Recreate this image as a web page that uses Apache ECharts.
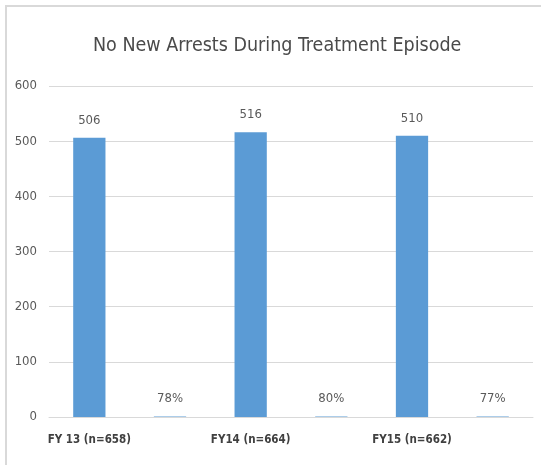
<!DOCTYPE html>
<html>
<head>
<meta charset="utf-8">
<script src="https://cdn.jsdelivr.net/npm/echarts@6/dist/echarts.min.js"></script>
<style>
  html, body { margin: 0; padding: 0; background: #fff; }
  #wrap { position: relative; width: 541px; height: 465px; }
  #frame { position: absolute; left: 5px; top: 5px; right: 0; bottom: 0;
           border-top: 2px solid #d9d9d9; border-left: 2px solid #d9d9d9; }
  #chart { position: absolute; left: 0; top: 0; width: 541px; height: 465px; }
</style>
</head>
<body>
<div id="wrap">
  <div id="frame"></div>
  <div id="chart"></div>
</div>
<script>
// 类别（每组两根柱：人数 + 百分比）
var categories = ['FY 13 (n=658)', '', 'FY14 (n=664)', '', 'FY15 (n=662)', ''];
var values = [506, 0.78, 516, 0.80, 510, 0.77];
var labels = ['506', '78%', '516', '80%', '510', '77%'];
var yTicks = [0, 100, 200, 300, 400, 500, 600];

var myChart = echarts.init(document.getElementById('chart'));
var font = '"DejaVu Sans Condensed", "Open Sans", sans-serif';
var option = {
    animation: false,
    title: {
        text: 'No New Arrests During Treatment Episode',
        left: 88,
        top: 31,
        textStyle: {
            color: '#4a4a4a',
            fontSize: 19.5,
            fontWeight: 'normal',
            fontFamily: font
        }
    },
    grid: {
        left: 49,
        right: 8,
        top: 86,
        bottom: 48
    },
    xAxis: {
        type: 'category',
        data: categories,
        axisLine: { lineStyle: { color: '#d9d9d9' } },
        axisTick: { show: false },
        axisLabel: {
            interval: 0,
            margin: 17,
            color: '#404040',
            fontSize: 11.5,
            fontWeight: 'bold',
            fontFamily: font
        }
    },
    yAxis: {
        type: 'value',
        min: yTicks[0],
        max: yTicks[yTicks.length - 1],
        interval: 100,
        axisLine: { show: false },
        axisTick: { show: false },
        splitLine: { lineStyle: { color: '#d9d9d9' } },
        axisLabel: {
            margin: 12,
            color: '#595959',
            fontSize: 13,
            fontFamily: font
        }
    },
    series: [{
        type: 'bar',
        data: values,
        barWidth: '40%',
        itemStyle: { color: '#5b9bd5' },
        label: {
            show: true,
            position: 'top',
            distance: 11,
            color: '#595959',
            fontSize: 13,
            fontFamily: font,
            formatter: function (p) { return labels[p.dataIndex]; }
        }
    }]
};
myChart.setOption(option);
</script>
</body>
</html>
